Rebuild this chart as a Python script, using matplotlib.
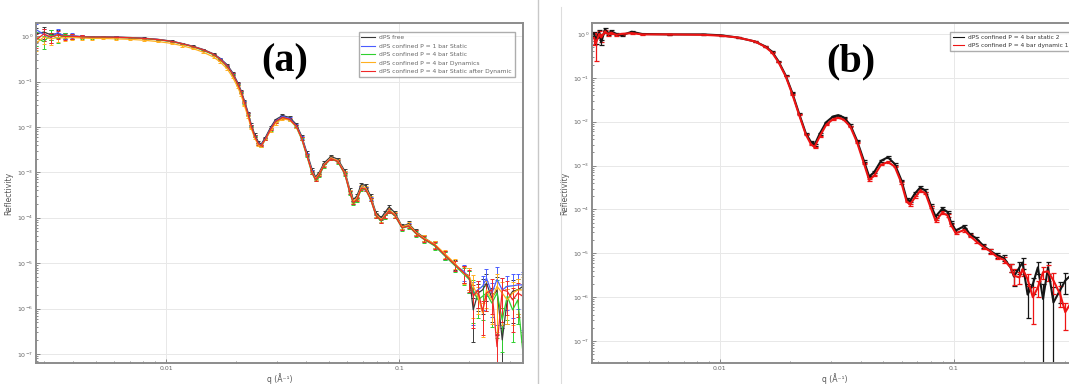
import numpy as np
import matplotlib
matplotlib.use("Agg")
import matplotlib.pyplot as plt
from matplotlib.ticker import LogLocator, FixedLocator, FixedFormatter, NullFormatter
from matplotlib.lines import Line2D

# ---- panel (a): q grid and log10(reflectivity) per sample ----
q_a = [0.00278, 0.00299, 0.00321, 0.00343, 0.00368, 0.00394, 0.00436, 0.00483, 0.00535, 0.00613,
       0.00703, 0.00807, 0.00925, 0.0106, 0.0117, 0.0130, 0.0144, 0.0160, 0.0171, 0.0183,
       0.0193, 0.0203, 0.0210, 0.0217, 0.0225, 0.0232, 0.0240, 0.0249, 0.0256, 0.0267,
       0.0281, 0.0295, 0.0316, 0.0339, 0.0362, 0.0382, 0.0402, 0.0423, 0.0438, 0.0453,
       0.0477, 0.0510, 0.0546, 0.0585, 0.0615, 0.0637, 0.0659, 0.0689, 0.0718, 0.0755,
       0.0796, 0.0838, 0.0867, 0.0906, 0.0960, 0.103, 0.110, 0.118, 0.128, 0.142,
       0.157, 0.174, 0.190, 0.200, 0.208, 0.218, 0.228, 0.237, 0.250, 0.263,
       0.277, 0.291, 0.307, 0.323, 0.340]

free = [0.05, 0.09, 0.03, 0.06, 0.01, 0.0, -0.01, -0.015, -0.015, -0.02,
        -0.03, -0.045, -0.07, -0.11, -0.16, -0.22, -0.29, -0.39, -0.49, -0.63,
        -0.80, -1.02, -1.20, -1.42, -1.68, -1.94, -2.16, -2.33, -2.38, -2.23,
        -2.01, -1.84, -1.75, -1.79, -1.94, -2.20, -2.56, -2.93, -3.10, -3.01,
        -2.79, -2.65, -2.71, -2.97, -3.38, -3.60, -3.52, -3.26, -3.29, -3.52,
        -3.89, -4.00, -3.89, -3.76, -3.89, -4.19, -4.13, -4.30, -4.44, -4.59,
        -4.81, -5.03, -5.22, -5.28, -6.03, -5.66, -5.59, -5.44, -5.77, -5.59,
        -6.69, -5.81, -5.62, -5.59, -5.51]

static_1bar = [0.14, 0.04, -0.03, 0.08, 0.0, 0.01, -0.01, -0.02, -0.02, -0.025,
               -0.035, -0.05, -0.075, -0.115, -0.165, -0.225, -0.30, -0.40, -0.50, -0.65,
               -0.82, -1.04, -1.22, -1.45, -1.71, -1.97, -2.19, -2.36, -2.40, -2.26,
               -2.04, -1.87, -1.77, -1.81, -1.97, -2.23, -2.60, -2.97, -3.14, -3.05,
               -2.83, -2.68, -2.74, -3.01, -3.43, -3.66, -3.58, -3.33, -3.35, -3.57,
               -3.94, -4.05, -3.95, -3.83, -3.94, -4.21, -4.17, -4.33, -4.46, -4.61,
               -4.83, -5.05, -5.18, -5.36, -5.66, -5.59, -5.51, -5.33, -5.66, -5.36,
               -5.59, -5.51, -5.50, -5.48, -5.48]

static_4bar = [-0.04, -0.12, 0.03, -0.05, 0.02, -0.01, -0.02, -0.025, -0.025, -0.03,
               -0.04, -0.055, -0.08, -0.12, -0.17, -0.23, -0.31, -0.41, -0.52, -0.67,
               -0.84, -1.06, -1.24, -1.47, -1.73, -1.99, -2.21, -2.38, -2.42, -2.28,
               -2.06, -1.89, -1.80, -1.84, -2.00, -2.27, -2.64, -3.02, -3.17, -3.08,
               -2.86, -2.70, -2.77, -3.04, -3.46, -3.69, -3.62, -3.37, -3.38, -3.60,
               -3.96, -4.08, -3.98, -3.86, -3.96, -4.23, -4.19, -4.35, -4.48, -4.62,
               -4.84, -5.06, -5.25, -5.36, -5.62, -5.81, -5.73, -5.66, -5.88, -5.66,
               -6.25, -5.73, -6.03, -5.81, -6.99]

dynamic_4bar = [-0.15, -0.02, -0.06, -0.03, -0.04, -0.03, -0.04, -0.05, -0.05, -0.06,
                -0.07, -0.09, -0.12, -0.16, -0.21, -0.27, -0.35, -0.46, -0.57, -0.72,
                -0.90, -1.12, -1.30, -1.53, -1.78, -2.03, -2.24, -2.40, -2.42, -2.28,
                -2.08, -1.92, -1.82, -1.85, -1.99, -2.25, -2.62, -2.99, -3.14, -3.04,
                -2.83, -2.68, -2.74, -3.01, -3.42, -3.64, -3.57, -3.32, -3.34, -3.56,
                -3.93, -4.04, -3.95, -3.83, -3.93, -4.20, -4.15, -4.32, -4.45, -4.58,
                -4.79, -5.01, -5.23, -5.29, -5.51, -5.73, -6.10, -5.59, -5.81, -5.51,
                -5.66, -5.81, -5.66, -5.59, -5.59]

after_dynamic = [-0.08, 0.05, -0.02, 0.03, -0.01, 0.0, -0.015, -0.02, -0.02, -0.025,
                 -0.035, -0.05, -0.075, -0.115, -0.165, -0.225, -0.30, -0.40, -0.51, -0.66,
                 -0.83, -1.05, -1.23, -1.46, -1.72, -1.98, -2.20, -2.37, -2.41, -2.27,
                 -2.05, -1.88, -1.79, -1.83, -1.98, -2.25, -2.62, -3.00, -3.16, -3.06,
                 -2.84, -2.70, -2.76, -3.03, -3.45, -3.67, -3.60, -3.35, -3.37, -3.59,
                 -3.95, -4.06, -3.97, -3.85, -3.95, -4.22, -4.18, -4.34, -4.47, -4.60,
                 -4.82, -5.04, -5.22, -5.33, -5.73, -5.59, -6.06, -5.66, -5.59, -6.84,
                 -5.59, -5.62, -5.81, -5.66, -5.73]

# relative error (dR/R), shared by the panel (a) curves
err_a = [0.35, 0.3, 0.25, 0.2, 0.15, 0.12, 0.08, 0.06, 0.05, 0.05,
         0.04, 0.04, 0.04, 0.04, 0.04, 0.04, 0.04, 0.04, 0.04, 0.04,
         0.04, 0.04, 0.04, 0.04, 0.04, 0.04, 0.04, 0.04, 0.04, 0.04,
         0.06, 0.06, 0.06, 0.06, 0.06, 0.06, 0.06, 0.06, 0.06, 0.06,
         0.08, 0.08, 0.08, 0.08, 0.08, 0.08, 0.08, 0.08, 0.08, 0.08,
         0.1, 0.1, 0.1, 0.1, 0.12, 0.12, 0.12, 0.15, 0.15, 0.18,
         0.2, 0.25, 0.4, 0.5, 0.8, 0.6, 0.7, 0.6, 0.7, 0.9,
         0.8, 0.7, 0.8, 0.7, 0.9]

labels_a = ["dPS free", "dPS confined P = 1 bar Static", "dPS confined P = 4 bar Static",
            "dPS confined P = 4 bar Dynamics", "dPS confined P = 4 bar Static after Dynamic"]
colors_a = ["#3a3a3a", "#4a5cff", "#2fd02f", "#ffb020", "#f02828"]

# ---- panel (b) ----
q_b = [0.00290, 0.00295, 0.00305, 0.00311, 0.00323, 0.00332, 0.00343, 0.00361, 0.00380, 0.00420,
       0.00465, 0.00608, 0.00851, 0.0101, 0.0119, 0.0141, 0.0156, 0.0167, 0.0178, 0.0191,
       0.0204, 0.0218, 0.0233, 0.0245, 0.0254, 0.0267, 0.0285, 0.0305, 0.0321, 0.0338,
       0.0361, 0.0386, 0.0413, 0.0435, 0.0457, 0.0489, 0.0523, 0.0559, 0.0598, 0.0629,
       0.0650, 0.0684, 0.0719, 0.0757, 0.0796, 0.0837, 0.0895, 0.0942, 0.0973, 0.102,
       0.111, 0.117, 0.125, 0.134, 0.143, 0.153, 0.164, 0.175, 0.181, 0.191,
       0.197, 0.207, 0.218, 0.229, 0.241, 0.253, 0.267, 0.285, 0.300, 0.321, 0.343]

static_2 = [0.0, -0.15, 0.04, -0.19, 0.11, 0.0, 0.06, 0.0, -0.03, 0.05,
            0.0, -0.01, -0.01, -0.03, -0.08, -0.17, -0.28, -0.40, -0.62, -0.94,
            -1.34, -1.81, -2.26, -2.46, -2.53, -2.28, -2.01, -1.88, -1.85, -1.90,
            -2.07, -2.43, -2.89, -3.25, -3.15, -2.89, -2.81, -2.96, -3.34, -3.76,
            -3.81, -3.63, -3.50, -3.57, -3.89, -4.16, -3.98, -4.06, -4.29, -4.48,
            -4.38, -4.56, -4.66, -4.83, -4.94, -5.04, -5.11, -5.32, -5.53, -5.32,
            -5.21, -5.94, -5.70, -5.32, -6.04, -5.32, -6.12, -5.84, -5.62, -5.47, -5.70]

dynamic_1 = [-0.09, -0.21, 0.0, -0.08, 0.06, 0.0, 0.03, -0.02, 0.0, 0.02,
             -0.01, -0.01, -0.02, -0.04, -0.08, -0.17, -0.29, -0.42, -0.64, -0.96,
             -1.37, -1.84, -2.29, -2.51, -2.58, -2.34, -2.07, -1.94, -1.91, -1.95,
             -2.11, -2.47, -2.95, -3.33, -3.23, -2.98, -2.92, -3.02, -3.40, -3.82,
             -3.89, -3.72, -3.57, -3.63, -3.95, -4.26, -4.07, -4.14, -4.35, -4.54,
             -4.47, -4.60, -4.73, -4.86, -4.95, -5.08, -5.15, -5.32, -5.51, -5.55,
             -5.36, -5.59, -6.00, -5.78, -5.43, -5.41, -5.62, -5.93, -6.34, -6.08, -5.93]

err_static_2 = [0.1, 0.15, 0.1, 0.15, 0.08, 0.06, 0.05, 0.04, 0.04, 0.03,
                0.02, 0.02, 0.02, 0.02, 0.02, 0.02, 0.02, 0.02, 0.02, 0.02,
                0.03, 0.03, 0.03, 0.03, 0.03, 0.03, 0.03, 0.03, 0.03, 0.03,
                0.04, 0.04, 0.04, 0.04, 0.04, 0.04, 0.04, 0.04, 0.04, 0.04,
                0.06, 0.06, 0.06, 0.06, 0.06, 0.06, 0.06, 0.06, 0.06, 0.06,
                0.08, 0.08, 0.1, 0.1, 0.12, 0.12, 0.15, 0.2, 0.4, 0.3,
                0.3, 0.7, 0.4, 0.3, 1.2, 0.3, 1.2, 0.5, 0.5, 0.5, 0.6]

err_dynamic_1 = [0.3, 0.6, 0.15, 0.2, 0.1, 0.08, 0.06, 0.05, 0.04, 0.03,
                 0.02, 0.02, 0.02, 0.02, 0.02, 0.02, 0.02, 0.02, 0.02, 0.02,
                 0.03, 0.03, 0.03, 0.03, 0.03, 0.03, 0.03, 0.03, 0.03, 0.03,
                 0.04, 0.04, 0.04, 0.04, 0.04, 0.04, 0.04, 0.04, 0.04, 0.04,
                 0.06, 0.06, 0.06, 0.06, 0.06, 0.06, 0.06, 0.06, 0.06, 0.06,
                 0.08, 0.08, 0.1, 0.1, 0.12, 0.12, 0.15, 0.2, 0.4, 0.3,
                 0.3, 0.3, 0.75, 0.4, 0.3, 0.4, 0.5, 0.5, 0.6, 0.5, 0.5]

labels_b = ["dPS confined P = 4 bar static 2", "dPS confined P = 4 bar dynamic 1"]
colors_b = ["#151515", "#ee1414"]


def style_axis(ax, xlim, ylim):
    ax.set_xscale("log")
    ax.set_yscale("log")
    ax.set_xlim(*xlim)
    ax.set_ylim(*ylim)
    ax.yaxis.set_major_locator(FixedLocator([10.0 ** k for k in range(0, -8, -1)]))
    ax.yaxis.set_minor_locator(LogLocator(base=10, subs=np.arange(2, 10), numticks=20))
    ax.yaxis.set_minor_formatter(NullFormatter())
    ax.xaxis.set_major_locator(FixedLocator([0.01, 0.1]))
    ax.xaxis.set_major_formatter(FixedFormatter(["0.01", "0.1"]))
    ax.xaxis.set_minor_locator(LogLocator(base=10, subs=np.arange(2, 10), numticks=20))
    ax.xaxis.set_minor_formatter(NullFormatter())
    ax.tick_params(which="both", direction="in", colors="#777777", labelcolor="#666666",
                   labelsize=4.5, width=0.6, pad=2)
    ax.tick_params(which="major", length=3)
    ax.tick_params(which="minor", length=1.5)
    ax.grid(True, which="major", color="#e8e8e8", lw=0.7)
    for s in ax.spines.values():
        s.set_color("#8c8c8c")
        s.set_linewidth(1.4)
    ax.set_ylabel("Reflectivity", fontsize=5.5, color="#555555")
    ax.yaxis.set_label_coords(-0.046, 0.5)
    ax.set_xlabel("q (Å\u207b\u00b9)", fontsize=5.5, color="#555555", labelpad=2)


fig = plt.figure(figsize=(10.69, 3.84), dpi=100)
W, H = 1069.0, 384.0

# panel (a)
ax1 = fig.add_axes([36 / W, 21 / H, (523 - 36) / W, (363 - 23) / H])
style_axis(ax1, (0.00277, 0.340), (10 ** -7.2, 10 ** 0.29))
series_a = [free, static_1bar, static_4bar, dynamic_4bar, after_dynamic]
for vals, col, lab in zip(series_a, colors_a, labels_a):
    r = 10.0 ** np.array(vals)
    ax1.errorbar(q_a, r, yerr=r * np.array(err_a), color=col, lw=0.9, elinewidth=0.7,
                 capsize=1.6, capthick=0.7, label=lab)
handles = [Line2D([], [], color=c, lw=0.8) for c in colors_a]
ax1.legend(handles, labels_a, loc="upper right", bbox_to_anchor=(518 / W, 1 - 29 / H),
           bbox_transform=fig.transFigure, fontsize=4.3, frameon=True, fancybox=False,
           edgecolor="#999999", handlelength=2.2, labelspacing=0.55, borderpad=0.5,
           labelcolor="#666666")
fig.text(285 / W, 1 - 62 / H, "(a)", fontsize=29, fontweight="bold",
         family="Liberation Serif", ha="center", va="center")

# panel (b)
ax2 = fig.add_axes([592 / W, 21 / H, (1078 - 592) / W, (363 - 23) / H])
style_axis(ax2, (0.00284, 0.340), (10 ** -7.5, 10 ** 0.25))
for vals, errs, col, lab in zip([static_2, dynamic_1], [err_static_2, err_dynamic_1],
                                colors_b, labels_b):
    r = 10.0 ** np.array(vals)
    ax2.errorbar(q_b, r, yerr=r * np.array(errs), color=col, lw=1.5, elinewidth=0.9,
                 capsize=1.8, capthick=0.9, label=lab)
handles = [Line2D([], [], color=c, lw=0.8) for c in colors_b]
ax2.legend(handles, labels_b, loc="upper left", bbox_to_anchor=(947 / W, 1 - 29 / H),
           bbox_transform=fig.transFigure, fontsize=4.2, frameon=True, fancybox=False,
           edgecolor="#999999", handlelength=2.0, labelspacing=0.5, borderpad=0.5,
           handletextpad=0.6, labelcolor="#333333")
fig.text(851 / W, 1 - 62 / H, "(b)", fontsize=29, fontweight="bold",
         family="Liberation Serif", ha="center", va="center")

# separators between the two panels
fig.add_artist(Line2D([538 / W, 538 / W], [0, 1], color="#c8c8c8", lw=1.0))
fig.add_artist(Line2D([561 / W, 561 / W], [0, 1 - 7 / H], color="#dddddd", lw=0.8))

fig.savefig("out.png", dpi=100)
